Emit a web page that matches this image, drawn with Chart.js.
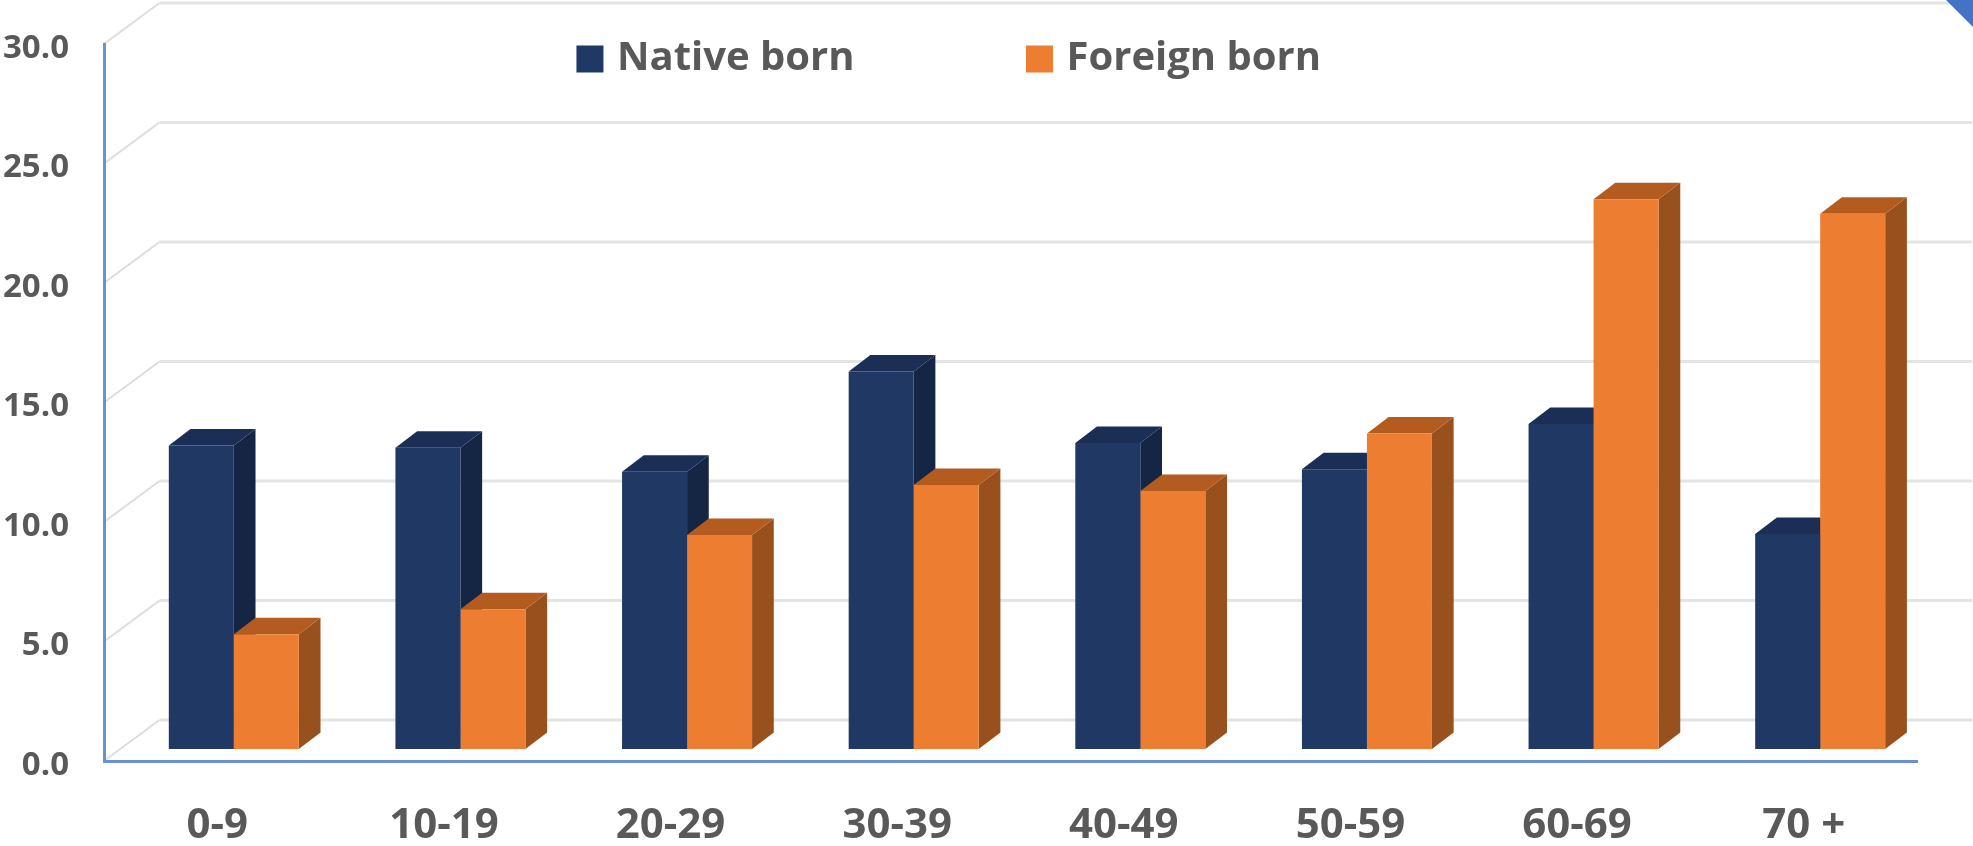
<!DOCTYPE html>
<html><head><meta charset="utf-8">
<style>html,body{margin:0;padding:0;background:#fff}canvas{display:block}</style>
<script src="https://cdn.jsdelivr.net/npm/chart.js@4"></script>
</head><body>
<canvas id="c" width="1973" height="846"></canvas>
<script>
const categories = ["0-9","10-19","20-29","30-39","40-49","50-59","60-69","70 +"];
const nativeBorn = [12.7,12.6,11.6,15.8,12.8,11.7,13.6,9.0];
const foreignBorn = [4.8,5.85,8.95,11.05,10.8,13.2,23.0,22.4];
const seriesNames = ["Native born","Foreign born"];

const FONT = '"Open Sans", sans-serif';
const TEXT = '#595959';
const BLUE = '#6b8fd6';
const FACES = [
  {front:'#1f3864', side:'#152544', top:'#1a2e56'},
  {front:'#ed7d31', side:'#98501c', top:'#b45c20'}
];
const SHIFT = {x:16.5, y:-12};   // bars sit inside the floor depth
const DEPTH = {x:21.7, y:-16.5}; // bar depth
const WALL  = {x:55.5, y:-41};   // back wall offset

const scene = {
  id:'scene',
  beforeLayout(chart){
    const l=chart.legend, y=chart.scales.y;
    if(!l.__w){ l.__w=true; const f=l.fit; l.fit=function(){f.call(this); this.height=44;}; }
    if(!y.__w){ y.__w=true; const d=y.drawLabels; y.drawLabels=function(a){
      const c=this.ctx; c.save(); c.translate(0,4.5); d.call(this,a); c.restore(); }; }
  },
  beforeDraw(chart){
    const {ctx, scales:{y}, chartArea:a, width} = chart;
    ctx.save();
    ctx.fillStyle='#fff'; ctx.fillRect(0,0,chart.width,chart.height);
    y.ticks.forEach(t=>{
      const py=y.getPixelForValue(t.value);
      ctx.strokeStyle='#dcdcdc'; ctx.lineWidth=1.8;
      ctx.beginPath(); ctx.moveTo(a.left,py); ctx.lineTo(a.left+WALL.x,py+WALL.y); ctx.stroke();
      ctx.strokeStyle='#e4e4e4'; ctx.lineWidth=3;
      ctx.beginPath(); ctx.moveTo(a.left+WALL.x,py+WALL.y); ctx.lineTo(width-1,py+WALL.y); ctx.stroke();
    });
    ctx.fillStyle='#4472c4';
    ctx.beginPath(); ctx.moveTo(1946,0); ctx.lineTo(1973,0); ctx.lineTo(1973,27); ctx.closePath(); ctx.fill();
    ctx.restore();
  },
  afterLayout(chart){
    const l=chart.legend;
    l.left-=6.5; l.right-=6.5; l.top=-139; l.bottom=200;
  },
  beforeDatasetsDraw(chart){
    const ctx=chart.ctx;
    ctx.save();
    ctx.translate(SHIFT.x,SHIFT.y);
    [0,1].forEach(i=>{
      const meta=chart.getDatasetMeta(i);
      meta.data.forEach(b=>{
        const L=b.x-b.width/2,R=b.x+b.width/2,T=b.y,B=b.base;
        ctx.fillStyle=FACES[i].side;
        ctx.beginPath();ctx.moveTo(R,T);ctx.lineTo(R+DEPTH.x,T+DEPTH.y);ctx.lineTo(R+DEPTH.x,B+DEPTH.y);ctx.lineTo(R,B);ctx.closePath();ctx.fill();
        ctx.fillStyle=FACES[i].top;
        ctx.beginPath();ctx.moveTo(L,T);ctx.lineTo(L+DEPTH.x,T+DEPTH.y);ctx.lineTo(R+DEPTH.x,T+DEPTH.y);ctx.lineTo(R,T);ctx.closePath();ctx.fill();
      });
    });
  },
  afterDatasetsDraw(chart){ chart.ctx.restore(); }
};

new Chart(document.getElementById('c'),{
  type:'bar',
  data:{labels:categories,datasets:[
    {label:seriesNames[0],data:nativeBorn,backgroundColor:FACES[0].front,borderWidth:0,clip:false},
    {label:seriesNames[1],data:foreignBorn,backgroundColor:FACES[1].front,borderWidth:0,clip:false}
  ]},
  options:{
    responsive:false,animation:false,
    layout:{padding:{top:0,right:56,left:0,bottom:0}},
    datasets:{bar:{barPercentage:1,categoryPercentage:0.5737}},
    plugins:{
      tooltip:{enabled:false},
      legend:{
        position:'top',align:'center',
        labels:{
          padding:178,boxWidth:14,boxHeight:14,color:TEXT,
          font:{family:FONT,size:40,weight:'bold'},
          generateLabels(chart){
            return chart.data.datasets.map((d,i)=>({text:d.label,fillStyle:d.backgroundColor,strokeStyle:d.backgroundColor,lineWidth:13,datasetIndex:i,fontColor:TEXT}));
          }
        }
      }
    },
    scales:{
      x:{
        grid:{display:false,drawTicks:false},
        border:{color:BLUE,width:3},
        afterFit(s){s.height=85;},
        ticks:{color:TEXT,padding:40,maxRotation:0,font:{family:FONT,size:42,weight:'bold'}}
      },
      y:{
        min:0,max:30,
        grid:{display:false,drawTicks:false},
        border:{color:BLUE,width:3},
        afterFit(s){s.width=104;s.paddingTop=0;s.paddingBottom=0;},
        ticks:{stepSize:5,color:TEXT,padding:35,font:{family:FONT,size:33,weight:'bold'},callback:v=>v.toFixed(1)}
      }
    }
  },
  plugins:[scene]
});
</script>
</body></html>
